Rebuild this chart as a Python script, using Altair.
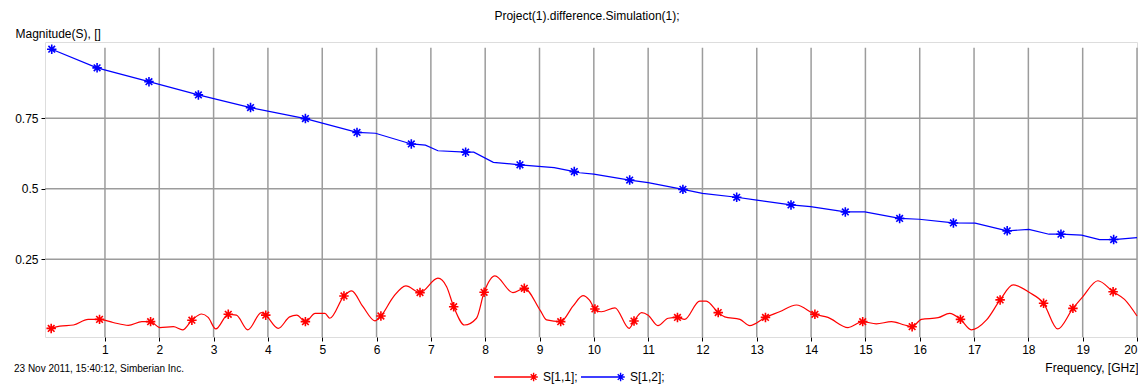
import altair as alt
import pandas as pd

# ---------------- data ----------------
series = ["S[1,1];", "S[1,2];"]
colors = ["#ff0000", "#0000ff"]

red_freq = [0.01, 0.17, 0.42, 0.69, 0.90, 1.15, 1.43, 1.68, 1.84, 2.01, 2.26, 2.43, 2.60, 2.78, 2.90,
            3.04, 3.27, 3.42, 3.63, 3.88, 3.96, 4.19, 4.40, 4.53, 4.69, 4.87, 5.05, 5.14, 5.40, 5.54,
            5.75, 5.97, 6.08, 6.31, 6.54, 6.80, 7.13, 7.29, 7.42, 7.62, 7.84, 7.98, 8.18, 8.51, 8.72,
            9.01, 9.13, 9.39, 9.62, 9.80, 9.92, 10.02, 10.14, 10.39, 10.65, 10.74, 10.88, 11.00, 11.18,
            11.37, 11.54, 11.67, 11.95, 12.07, 12.29, 12.41, 12.69, 12.87, 13.16, 13.42, 13.73, 14.07,
            14.31, 14.68, 14.95, 15.20, 15.48, 15.72, 15.86, 16.03, 16.34, 16.55, 16.75, 16.95, 17.23,
            17.48, 17.72, 18.02, 18.28, 18.54, 18.82, 19.00, 19.28, 19.56, 19.77, 20.00]
red_mag = [0.005, 0.013, 0.017, 0.037, 0.037, 0.026, 0.016, 0.029, 0.029, 0.008, 0.011, 0.000, 0.034, 0.056, 0.044,
           0.003, 0.055, 0.052, 0.000, 0.061, 0.052, 0.005, 0.046, 0.052, 0.029, 0.058, 0.058, 0.041, 0.120, 0.138,
           0.082, 0.032, 0.049, 0.117, 0.156, 0.132, 0.183, 0.153, 0.082, 0.017, 0.041, 0.133, 0.191, 0.132, 0.147,
           0.070, 0.035, 0.029, 0.085, 0.121, 0.105, 0.074, 0.064, 0.078, 0.005, 0.031, 0.061, 0.052, 0.015,
           0.041, 0.044, 0.037, 0.102, 0.102, 0.061, 0.046, 0.037, 0.015, 0.044, 0.064, 0.088, 0.055,
           0.044, 0.008, 0.029, 0.021, 0.029, 0.017, 0.011, 0.037, 0.043, 0.058, 0.037, 0.000, 0.035,
           0.106, 0.159, 0.132, 0.094, 0.003, 0.076, 0.117, 0.174, 0.135, 0.108, 0.049]

red_mk_freq = [0.01, 0.90, 1.84, 2.60, 3.27, 3.96, 4.69, 5.40, 6.08, 6.80, 7.42, 7.98, 8.72, 9.39,
               10.02, 10.74, 11.54, 12.29, 13.16, 14.07, 14.95, 15.86, 16.75, 17.48, 18.28, 18.82, 19.56]
red_mk_mag = [0.005, 0.037, 0.029, 0.034, 0.055, 0.052, 0.029, 0.120, 0.049, 0.132, 0.082, 0.133, 0.147, 0.029,
              0.074, 0.031, 0.044, 0.061, 0.044, 0.055, 0.029, 0.011, 0.037, 0.106, 0.094, 0.076, 0.135]

blue_freq = [0.02, 0.855, 1.81, 2.72, 3.68, 4.69, 5.64, 5.98, 6.64, 6.90, 7.13, 7.64, 7.79, 8.15, 8.64,
             9.27, 9.64, 9.74, 10.00, 10.66, 11.00, 11.64, 12.00, 12.63, 13.00, 13.63, 13.99, 14.63, 14.99,
             15.63, 15.99, 16.62, 17.02, 17.61, 18.01, 18.38, 18.60, 18.98, 19.31, 19.57, 20.00]
blue_mag = [0.995, 0.929, 0.880, 0.833, 0.788, 0.749, 0.700, 0.697, 0.659, 0.655, 0.635, 0.630, 0.630, 0.594, 0.585,
            0.575, 0.561, 0.557, 0.552, 0.531, 0.522, 0.498, 0.484, 0.470, 0.460, 0.443, 0.437, 0.418, 0.418,
            0.395, 0.392, 0.379, 0.378, 0.351, 0.356, 0.339, 0.339, 0.336, 0.320, 0.320, 0.327]

blue_mk_freq = [0.02, 0.855, 1.81, 2.72, 3.68, 4.69, 5.64, 6.64, 7.64, 8.64, 9.64, 10.66, 11.64, 12.63,
                13.63, 14.63, 15.63, 16.62, 17.61, 18.60, 19.57]
blue_mk_mag = [0.995, 0.929, 0.880, 0.833, 0.788, 0.749, 0.700, 0.659, 0.630, 0.585, 0.561, 0.531, 0.498, 0.470,
               0.443, 0.418, 0.395, 0.379, 0.351, 0.339, 0.320]

x_ticks = list(range(1, 21))
y_ticks = [0.25, 0.5, 0.75]
x_domain = [-0.104, 20.0]
y_domain = [-0.0255, 1.0206]
grid_x_end = 20.0
grid_y_end = 1.0

title_text = "Project(1).difference.Simulation(1);"
y_title = "Magnitude(S), []"
x_title = "Frequency, [GHz]"
footer = ["23 Nov 2011, 15:40:12, Simberian Inc."]

# ---------------- tables ----------------
red_df = pd.DataFrame({"f": red_freq, "m": red_mag})
blue_df = pd.DataFrame({"f": blue_freq, "m": blue_mag})
mk_df = pd.concat([
    pd.DataFrame({"f": red_mk_freq, "m": red_mk_mag, "s": series[0]}),
    pd.DataFrame({"f": blue_mk_freq, "m": blue_mk_mag, "s": series[1]}),
])
vgrid_df = pd.DataFrame({"gx": x_ticks, "gy0": y_domain[0], "gy1": grid_y_end})
hgrid_df = pd.DataFrame({"gy": y_ticks, "gx0": x_domain[0], "gx1": grid_x_end})
foot_df = pd.DataFrame({"t": footer})

FONT = "Liberation Sans"
W, H = 1092, 295
STAR = "M0,-1L0,1M-1,0L1,0M-0.7,-0.7L0.7,0.7M-0.7,0.7L0.7,-0.7"
LEG = ("M-1,0L0.8,0M0.8,-0.19L0.8,0.19M0.61,0L0.99,0"
       "M0.67,-0.13L0.93,0.13M0.67,0.13L0.93,-0.13")

xs = alt.Scale(domain=x_domain, nice=False, zero=False)
ys = alt.Scale(domain=y_domain, nice=False, zero=False)
cs = alt.Scale(domain=series, range=colors)

x_axis = alt.Axis(values=x_ticks, grid=False, domain=False, tickColor="#000", tickSize=4,
                  labelFontSize=12, labelFont=FONT, labelColor="#000", labelPadding=3,
                  title=x_title, titleFont=FONT, titleFontSize=12, titleFontWeight="normal",
                  titleColor="#000", titleAnchor="end", titleAlign="right", titleBaseline="alphabetic",
                  titleX=W + 1, titleY=34)
y_axis = alt.Axis(values=y_ticks, format=".2~f", grid=False, domain=False, tickColor="#000", tickSize=4,
                  labelFontSize=12, labelFont=FONT, labelColor="#000", labelPadding=3,
                  title=y_title, titleFont=FONT, titleFontSize=12, titleFontWeight="normal",
                  titleColor="#000", titleAngle=0, titleAlign="left", titleBaseline="alphabetic",
                  titleX=-30, titleY=-5)

vgrid = alt.Chart(vgrid_df).mark_rule(color="#9c9c9c", strokeWidth=1.5).encode(
    x=alt.X("gx:Q", scale=xs, axis=x_axis),
    y=alt.Y("gy0:Q", scale=ys, axis=y_axis),
    y2="gy1:Q",
)
hgrid = alt.Chart(hgrid_df).mark_rule(color="#9c9c9c", strokeWidth=1.5).encode(
    y=alt.Y("gy:Q", scale=ys),
    x=alt.X("gx0:Q", scale=xs),
    x2="gx1:Q",
)
red_line = alt.Chart(red_df).mark_line(strokeWidth=1.2, interpolate="monotone", color=colors[0]).encode(
    x=alt.X("f:Q", scale=xs), y=alt.Y("m:Q", scale=ys),
)
blue_line = alt.Chart(blue_df).mark_line(strokeWidth=1.2, color=colors[1]).encode(
    x=alt.X("f:Q", scale=xs), y=alt.Y("m:Q", scale=ys),
)
markers = alt.Chart(mk_df).mark_point(shape=STAR, filled=False, size=90, strokeWidth=1.6, opacity=1).encode(
    x=alt.X("f:Q", scale=xs), y=alt.Y("m:Q", scale=ys),
    color=alt.Color("s:N", scale=cs, legend=alt.Legend(
        title=None, orient="none", direction="horizontal", legendX=448, legendY=312,
        symbolType=LEG, symbolSize=1936, symbolStrokeWidth=1.4, symbolOpacity=1,
        labelFont=FONT, labelFontSize=12, labelColor="#000", labelOffset=4, columnPadding=0,
    )),
)
foot = alt.Chart(foot_df).mark_text(align="left", baseline="middle", font=FONT, fontSize=10,
                                     color="#000").encode(
    text="t:N", x=alt.value(-31), y=alt.value(327),
)

chart = alt.layer(vgrid, hgrid, red_line, blue_line, markers, foot).properties(
    width=W, height=H,
    title=alt.TitleParams(title_text, font=FONT, fontSize=12, fontWeight="normal", color="#000",
                          anchor="middle", offset=4, dx=-4),
    autosize=alt.AutoSizeParams(type="none"),
    padding={"left": 37, "top": 34, "right": 1, "bottom": 47},
).configure_view(stroke="#000", strokeWidth=1.5).configure(background="white")

chart.save("out.html", embed_options={"renderer": "svg", "actions": False})
